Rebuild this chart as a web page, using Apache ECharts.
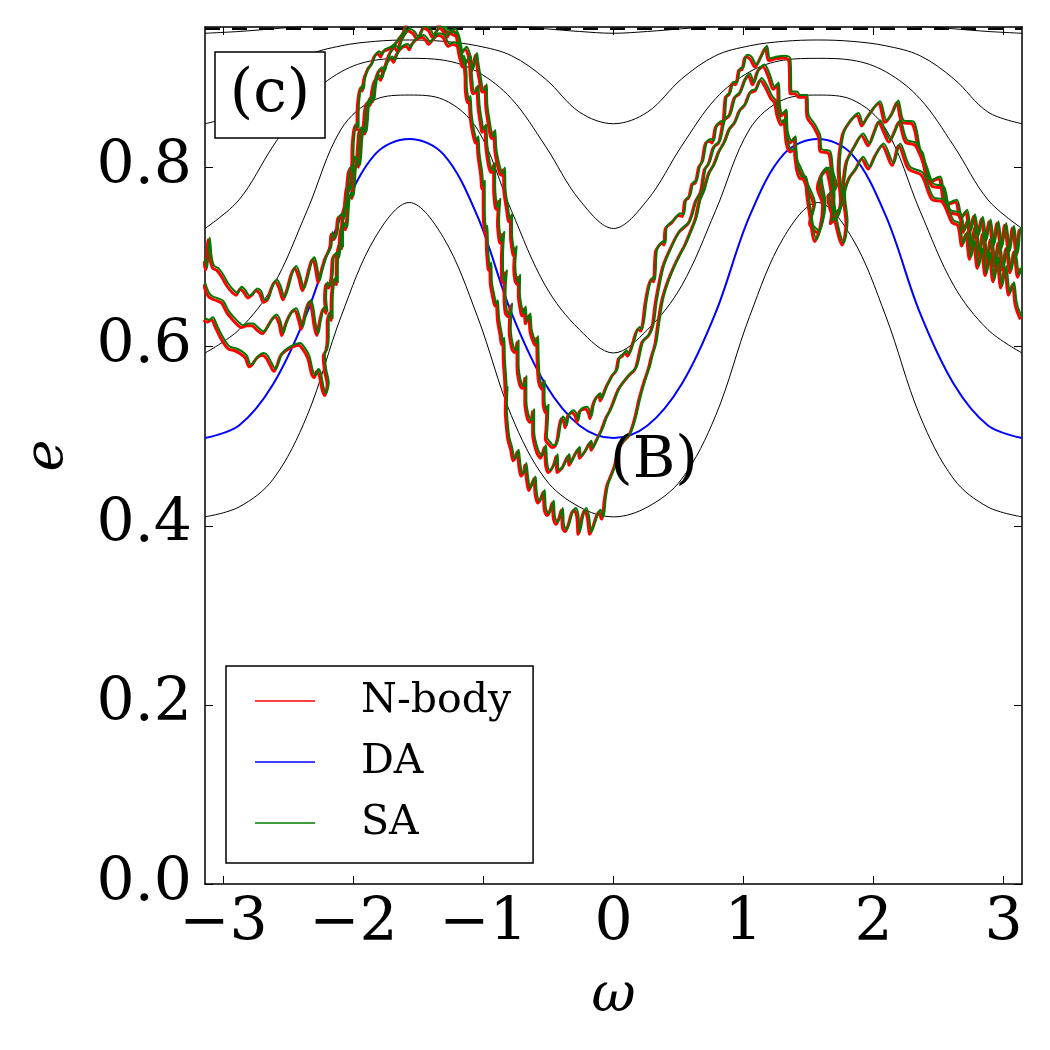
<!DOCTYPE html>
<html>
<head>
<meta charset="utf-8">
<title>e vs omega</title>
<script src="https://cdn.jsdelivr.net/npm/echarts@6.0.0/dist/echarts.min.js"></script>
<style>
    html, body { margin: 0; padding: 0; background: #fff; }
    #chart { width: 1050px; height: 1050px; }
</style>
</head>
<body>
<div id="chart"></div>
<script>
// omega grid of the contour curves (every 15 deg)
const omegaNodes = [
    -3.1416, -2.8798, -2.618, -2.3562, -2.0944, -1.8326, -1.5708, -1.309, -1.0472, -0.7854, -0.5236, -0.2618, 0,
    0.2618, 0.5236, 0.7854, 1.0472, 1.309, 1.5708, 1.8326, 2.0944, 2.3562, 2.618, 2.8798, 3.1416,
];

// black contours
const eInner = [0.410, 0.421, 0.452, 0.523, 0.634, 0.722, 0.761, 0.722, 0.634, 0.523, 0.452, 0.421, 0.410,
    0.421, 0.452, 0.523, 0.634, 0.722, 0.761, 0.722, 0.634, 0.523, 0.452, 0.421, 0.410];
const eMid = [0.593, 0.619, 0.668, 0.752, 0.843, 0.876, 0.881, 0.876, 0.843, 0.752, 0.668, 0.619, 0.593,
    0.619, 0.668, 0.752, 0.843, 0.876, 0.881, 0.876, 0.843, 0.752, 0.668, 0.619, 0.593];
const eOuter = [0.732, 0.764, 0.824, 0.877, 0.907, 0.920, 0.922, 0.920, 0.907, 0.877, 0.824, 0.764, 0.732,
    0.764, 0.824, 0.877, 0.907, 0.920, 0.922, 0.920, 0.907, 0.877, 0.824, 0.764, 0.732];
const eHigh = [0.849, 0.862, 0.899, 0.925, 0.936, 0.941, 0.9425, 0.941, 0.936, 0.925, 0.899, 0.862, 0.849,
    0.862, 0.899, 0.925, 0.936, 0.941, 0.9425, 0.941, 0.936, 0.925, 0.899, 0.862, 0.849];
const eTop = [0.950, 0.952, 0.955, 0.958, 0.960, 0.961, 0.961, 0.961, 0.960, 0.958, 0.955, 0.952, 0.950,
    0.952, 0.955, 0.958, 0.960, 0.961, 0.961, 0.961, 0.960, 0.958, 0.955, 0.952, 0.950];
// DA curve (blue)
const eDA = [0.498, 0.512, 0.558, 0.638, 0.746, 0.815, 0.832, 0.815, 0.746, 0.638, 0.558, 0.512, 0.498,
    0.512, 0.558, 0.638, 0.746, 0.815, 0.832, 0.815, 0.746, 0.638, 0.558, 0.512, 0.498];
const eLimit = 0.955;

const xTicks = [-3, -2, -1, 0, 1, 2, 3];
const yTicks = [0, 0.2, 0.4, 0.6, 0.8];

// trajectory P [omega, e]
const pTail = [[-3.1416, 0.698], [-3.125, 0.688], [-3.105, 0.722], [-3.09, 0.700], [-3.07, 0.690], [-3.04, 0.688],
    [-3.00, 0.680], [-2.96, 0.670], [-2.92, 0.663], [-2.89, 0.660], [-2.86, 0.667], [-2.83, 0.663], [-2.80, 0.657],
    [-2.77, 0.660], [-2.74, 0.665], [-2.71, 0.662], [-2.68, 0.652], [-2.65, 0.655], [-2.62, 0.668], [-2.59, 0.675],
    [-2.56, 0.668], [-2.53, 0.655], [-2.50, 0.666], [-2.47, 0.682], [-2.44, 0.690], [-2.41, 0.680], [-2.38, 0.665],
    [-2.35, 0.678], [-2.32, 0.695], [-2.30, 0.700], [-2.28, 0.690], [-2.26, 0.674], [-2.24, 0.685], [-2.21, 0.700],
    [-2.19, 0.706]];
const pRise = [[-2.17, 0.712], [-2.16, 0.728], [-2.14, 0.722], [-2.12, 0.730], [-2.11, 0.745], [-2.09, 0.748],
    [-2.07, 0.744], [-2.06, 0.755], [-2.05, 0.772], [-2.04, 0.780], [-2.02, 0.776], [-2.01, 0.786], [-2.00, 0.805],
    [-1.99, 0.812], [-1.97, 0.808], [-1.96, 0.818], [-1.95, 0.838], [-1.94, 0.845], [-1.92, 0.840], [-1.91, 0.852],
    [-1.90, 0.868], [-1.88, 0.875], [-1.86, 0.872], [-1.85, 0.885], [-1.83, 0.898], [-1.80, 0.903], [-1.78, 0.900],
    [-1.76, 0.910], [-1.73, 0.920], [-1.70, 0.924], [-1.68, 0.920], [-1.66, 0.928], [-1.62, 0.936], [-1.58, 0.938],
    [-1.56, 0.934]];
const pTop = [[-1.54, 0.940], [-1.50, 0.946], [-1.46, 0.948], [-1.43, 0.944], [-1.41, 0.940], [-1.38, 0.945],
    [-1.34, 0.950], [-1.30, 0.948], [-1.28, 0.942], [-1.26, 0.938], [-1.23, 0.940], [-1.19, 0.938], [-1.16, 0.930]];
const pDown = [[-1.13, 0.935], [-1.10, 0.925], [-1.08, 0.910], [-1.07, 0.915], [-1.05, 0.928], [-1.04, 0.918],
    [-1.02, 0.900], [-1.00, 0.887], [-0.988, 0.887], [-0.975, 0.893], [-0.97, 0.870], [-0.95, 0.850], [-0.935, 0.838],
    [-0.923, 0.835], [-0.91, 0.842], [-0.90, 0.820], [-0.88, 0.805], [-0.86, 0.795], [-0.846, 0.794], [-0.835, 0.800],
    [-0.83, 0.775], [-0.81, 0.755], [-0.795, 0.742], [-0.78, 0.748], [-0.78, 0.725], [-0.765, 0.708], [-0.756, 0.704],
    [-0.745, 0.712], [-0.755, 0.690], [-0.745, 0.676], [-0.73, 0.672], [-0.718, 0.680], [-0.72, 0.660], [-0.70, 0.640],
    [-0.69, 0.637], [-0.675, 0.645], [-0.665, 0.628], [-0.64, 0.637], [-0.628, 0.618], [-0.59, 0.604], [-0.58, 0.612],
    [-0.575, 0.585], [-0.564, 0.563], [-0.54, 0.555], [-0.53, 0.562], [-0.53, 0.540], [-0.512, 0.529], [-0.50, 0.535],
    [-0.505, 0.515], [-0.512, 0.499]];
const pBottom = [[-0.49, 0.494], [-0.46, 0.490], [-0.436, 0.492], [-0.42, 0.500], [-0.41, 0.510], [-0.39, 0.522],
    [-0.37, 0.518], [-0.36, 0.512], [-0.34, 0.525], [-0.308, 0.529], [-0.28, 0.524], [-0.27, 0.518], [-0.25, 0.530],
    [-0.205, 0.533], [-0.18, 0.528], [-0.17, 0.522], [-0.15, 0.536], [-0.128, 0.544], [-0.10, 0.548], [-0.09, 0.542],
    [-0.07, 0.548], [-0.05, 0.556], [-0.026, 0.563], [0.0, 0.570], [0.03, 0.575], [0.05, 0.589]];
const pClimb = [[0.08, 0.592], [0.10, 0.596], [0.12, 0.592], [0.154, 0.604], [0.2, 0.622], [0.22, 0.620],
    [0.256, 0.652], [0.282, 0.671], [0.31, 0.678], [0.32, 0.675], [0.334, 0.708], [0.36, 0.715], [0.385, 0.718],
    [0.40, 0.716], [0.41, 0.734], [0.46, 0.741], [0.513, 0.749], [0.54, 0.748], [0.56, 0.765], [0.59, 0.769],
    [0.615, 0.784], [0.64, 0.785], [0.667, 0.803], [0.69, 0.808], [0.718, 0.829], [0.75, 0.832], [0.77, 0.830],
    [0.795, 0.847], [0.83, 0.852], [0.85, 0.850], [0.872, 0.881], [0.90, 0.884], [0.923, 0.896], [0.95, 0.895],
    [0.975, 0.911], [1.00, 0.912], [1.026, 0.926], [1.06, 0.924], [1.1, 0.915], [1.14, 0.925], [1.18, 0.936],
    [1.205, 0.922], [1.26, 0.924], [1.32, 0.925], [1.36, 0.922], [1.372, 0.885], [1.41, 0.885], [1.436, 0.881],
    [1.49, 0.881], [1.50, 0.859], [1.55, 0.848], [1.59, 0.836], [1.6, 0.821], [1.667, 0.818], [1.69, 0.795]];
const pRight = [[1.72, 0.780], [1.66, 0.770], [1.70, 0.750], [1.76, 0.760], [1.74, 0.800], [1.77, 0.838],
    [1.82, 0.852], [1.885, 0.861], [1.92, 0.849], [1.96, 0.858], [2.05, 0.874], [2.10, 0.853], [2.15, 0.862],
    [2.19, 0.875], [2.23, 0.853], [2.31, 0.851], [2.36, 0.820], [2.38, 0.816], [2.44, 0.786], [2.51, 0.790],
    [2.565, 0.760], [2.64, 0.764], [2.68, 0.745], [2.72, 0.753], [2.75, 0.730], [2.78, 0.748], [2.81, 0.725],
    [2.84, 0.745], [2.87, 0.720], [2.90, 0.742], [2.93, 0.715], [2.96, 0.740], [2.99, 0.712], [3.02, 0.738],
    [3.05, 0.708], [3.08, 0.735], [3.11, 0.705], [3.13, 0.732], [3.1416, 0.733]];

// trajectory Q
const qTail = [[-3.1416, 0.672], [-3.11, 0.660], [-3.08, 0.656], [-3.04, 0.654], [-3.00, 0.651], [-2.96, 0.640],
    [-2.92, 0.633], [-2.88, 0.627], [-2.85, 0.624], [-2.81, 0.626], [-2.77, 0.626], [-2.73, 0.621], [-2.69, 0.617],
    [-2.66, 0.622], [-2.62, 0.632], [-2.59, 0.636], [-2.56, 0.628], [-2.54, 0.615], [-2.51, 0.628], [-2.47, 0.640],
    [-2.44, 0.643], [-2.41, 0.632], [-2.39, 0.622], [-2.36, 0.640], [-2.33, 0.652], [-2.31, 0.645], [-2.29, 0.625],
    [-2.27, 0.615], [-2.25, 0.630], [-2.22, 0.645], [-2.20, 0.640]];
const qRise = [[-2.21, 0.655], [-2.20, 0.672], [-2.18, 0.668], [-2.16, 0.680], [-2.15, 0.700], [-2.13, 0.705],
    [-2.11, 0.700], [-2.10, 0.712], [-2.09, 0.730], [-2.07, 0.738], [-2.05, 0.733], [-2.04, 0.745], [-2.03, 0.765],
    [-2.01, 0.772], [-2.00, 0.768], [-1.99, 0.780], [-1.98, 0.800], [-1.96, 0.808], [-1.95, 0.803], [-1.94, 0.815],
    [-1.93, 0.835], [-1.91, 0.845], [-1.90, 0.840], [-1.89, 0.852], [-1.88, 0.870], [-1.86, 0.880], [-1.84, 0.876],
    [-1.83, 0.888], [-1.81, 0.905], [-1.78, 0.912], [-1.76, 0.908], [-1.74, 0.918], [-1.71, 0.930], [-1.67, 0.936],
    [-1.65, 0.932], [-1.63, 0.942], [-1.60, 0.950]];
const qTop = [[-1.57, 0.955], [-1.53, 0.952], [-1.50, 0.946], [-1.48, 0.950], [-1.45, 0.958], [-1.41, 0.955],
    [-1.38, 0.948], [-1.36, 0.952], [-1.33, 0.958], [-1.30, 0.955], [-1.27, 0.948], [-1.25, 0.952], [-1.22, 0.955],
    [-1.19, 0.948]];
const qDown = [[-1.17, 0.935], [-1.15, 0.915], [-1.12, 0.920], [-1.10, 0.925], [-1.09, 0.905], [-1.07, 0.885],
    [-1.05, 0.887], [-1.04, 0.892], [-1.03, 0.870], [-1.01, 0.850], [-1.00, 0.842], [-0.98, 0.848], [-0.97, 0.825],
    [-0.95, 0.805], [-0.93, 0.797], [-0.91, 0.805], [-0.91, 0.780], [-0.90, 0.760], [-0.89, 0.756], [-0.87, 0.765],
    [-0.88, 0.740], [-0.87, 0.723], [-0.86, 0.718], [-0.84, 0.728], [-0.85, 0.700], [-0.85, 0.680], [-0.84, 0.674],
    [-0.82, 0.685], [-0.83, 0.660], [-0.82, 0.640], [-0.80, 0.636], [-0.78, 0.648], [-0.79, 0.620], [-0.77, 0.600],
    [-0.75, 0.596], [-0.73, 0.607], [-0.73, 0.580], [-0.71, 0.560], [-0.69, 0.556], [-0.67, 0.567], [-0.67, 0.540],
    [-0.65, 0.522], [-0.63, 0.518], [-0.61, 0.530]];
const qBottom = [[-0.61, 0.505], [-0.58, 0.485], [-0.55, 0.478], [-0.52, 0.490], [-0.51, 0.470], [-0.49, 0.462],
    [-0.45, 0.470], [-0.43, 0.480], [-0.42, 0.462], [-0.38, 0.468], [-0.34, 0.480], [-0.33, 0.470], [-0.30, 0.478],
    [-0.26, 0.488], [-0.25, 0.478], [-0.21, 0.485], [-0.17, 0.495], [-0.16, 0.487], [-0.12, 0.498], [-0.08, 0.510],
    [-0.05, 0.522], [-0.02, 0.530], [0.0, 0.537]];
const qClimb = [[0.05, 0.555], [0.128, 0.570], [0.18, 0.578], [0.23, 0.607], [0.282, 0.615], [0.31, 0.626],
    [0.334, 0.652], [0.385, 0.689], [0.436, 0.708], [0.513, 0.730], [0.59, 0.741], [0.64, 0.764], [0.68, 0.775],
    [0.71, 0.800], [0.74, 0.806], [0.78, 0.825], [0.82, 0.830], [0.86, 0.855], [0.90, 0.860], [0.94, 0.880],
    [0.98, 0.885], [1.02, 0.900], [1.05, 0.905], [1.08, 0.895], [1.12, 0.910], [1.16, 0.915], [1.20, 0.905],
    [1.24, 0.890], [1.27, 0.895], [1.28, 0.870], [1.30, 0.860], [1.33, 0.865], [1.34, 0.840], [1.37, 0.830],
    [1.40, 0.835], [1.41, 0.810], [1.44, 0.800]];
const qRight = [[1.50, 0.780], [1.55, 0.760], [1.52, 0.740], [1.58, 0.730], [1.63, 0.760], [1.60, 0.790],
    [1.66, 0.800], [1.70, 0.770], [1.68, 0.740], [1.74, 0.750], [1.78, 0.790], [1.80, 0.808], [1.86, 0.825],
    [1.92, 0.838], [1.97, 0.827], [2.01, 0.840], [2.05, 0.853], [2.09, 0.842], [2.13, 0.831], [2.17, 0.842],
    [2.205, 0.853], [2.257, 0.831], [2.334, 0.827], [2.41, 0.801], [2.46, 0.782], [2.54, 0.779], [2.59, 0.753],
    [2.67, 0.749], [2.70, 0.730], [2.73, 0.742], [2.76, 0.712], [2.79, 0.735], [2.82, 0.705], [2.85, 0.728],
    [2.88, 0.698], [2.91, 0.722], [2.94, 0.692], [2.97, 0.718], [3.00, 0.688], [3.03, 0.712], [3.06, 0.685],
    [3.09, 0.708], [3.12, 0.680], [3.1416, 0.690]];

// trajectory R
const rTail = [[-3.1416, 0.632], [-3.11, 0.630], [-3.08, 0.633], [-3.05, 0.624], [-3.02, 0.615], [-2.98, 0.605],
    [-2.95, 0.600], [-2.90, 0.598], [-2.86, 0.595], [-2.82, 0.590], [-2.79, 0.580], [-2.77, 0.582], [-2.73, 0.590],
    [-2.69, 0.593], [-2.66, 0.590], [-2.63, 0.582], [-2.60, 0.575], [-2.58, 0.580], [-2.55, 0.592], [-2.51, 0.598],
    [-2.46, 0.602], [-2.41, 0.604], [-2.38, 0.600], [-2.34, 0.590], [-2.31, 0.572], [-2.29, 0.568], [-2.27, 0.575],
    [-2.25, 0.570], [-2.23, 0.555], [-2.21, 0.548], [-2.19, 0.560]];
const rRise = [[-2.21, 0.575], [-2.22, 0.592], [-2.20, 0.598], [-2.19, 0.610], [-2.19, 0.630], [-2.17, 0.640],
    [-2.16, 0.632], [-2.16, 0.650], [-2.15, 0.670], [-2.13, 0.678], [-2.12, 0.672], [-2.12, 0.690], [-2.11, 0.710],
    [-2.09, 0.718], [-2.08, 0.712], [-2.08, 0.730], [-2.07, 0.752], [-2.05, 0.760], [-2.04, 0.754], [-2.04, 0.772],
    [-2.03, 0.795], [-2.01, 0.802], [-2.00, 0.796], [-2.00, 0.815], [-1.99, 0.840], [-1.97, 0.850], [-1.96, 0.845],
    [-1.96, 0.862], [-1.95, 0.882], [-1.93, 0.892], [-1.92, 0.888], [-1.91, 0.900], [-1.88, 0.912], [-1.85, 0.918],
    [-1.83, 0.926], [-1.80, 0.930], [-1.78, 0.926], [-1.76, 0.932], [-1.71, 0.935], [-1.67, 0.940], [-1.64, 0.946],
    [-1.61, 0.952], [-1.58, 0.962]];
const rTop = [[-1.52, 0.968], [-1.45, 0.970], [-1.38, 0.966], [-1.32, 0.960], [-1.28, 0.955], [-1.24, 0.952],
    [-1.21, 0.950]];
const rDown = [[-1.20, 0.950], [-1.18, 0.931], [-1.16, 0.920], [-1.15, 0.925], [-1.13, 0.905], [-1.128, 0.890],
    [-1.11, 0.875], [-1.10, 0.880], [-1.09, 0.858], [-1.07, 0.840], [-1.05, 0.830], [-1.04, 0.835], [-1.03, 0.815],
    [-1.01, 0.795], [-1.00, 0.779], [-0.99, 0.785], [-0.99, 0.760], [-0.988, 0.742], [-0.975, 0.728], [-0.97, 0.735],
    [-0.965, 0.712], [-0.962, 0.704], [-0.95, 0.688], [-0.94, 0.694], [-0.935, 0.672], [-0.92, 0.660], [-0.90, 0.648],
    [-0.89, 0.652], [-0.88, 0.632], [-0.86, 0.615], [-0.85, 0.605], [-0.84, 0.610], [-0.835, 0.585], [-0.825, 0.565],
    [-0.82, 0.550], [-0.815, 0.555], [-0.82, 0.530], [-0.81, 0.510], [-0.80, 0.498]];
const rBottom = [[-0.78, 0.488], [-0.76, 0.475], [-0.745, 0.478], [-0.73, 0.485], [-0.715, 0.468], [-0.70, 0.458],
    [-0.68, 0.462], [-0.67, 0.470], [-0.655, 0.452], [-0.64, 0.442], [-0.62, 0.448], [-0.60, 0.455], [-0.59, 0.437],
    [-0.57, 0.428], [-0.55, 0.432], [-0.53, 0.440], [-0.52, 0.420], [-0.50, 0.414], [-0.48, 0.418], [-0.46, 0.428],
    [-0.45, 0.410], [-0.43, 0.404], [-0.41, 0.410], [-0.39, 0.420], [-0.38, 0.400], [-0.36, 0.396], [-0.34, 0.402],
    [-0.31, 0.417], [-0.29, 0.420], [-0.27, 0.412], [-0.26, 0.393], [-0.25, 0.398], [-0.23, 0.413], [-0.21, 0.420],
    [-0.19, 0.412], [-0.17, 0.393], [-0.15, 0.400], [-0.12, 0.413], [-0.10, 0.418], [-0.08, 0.410], [-0.07, 0.415]];
const rClimb = [[-0.06, 0.430], [-0.04, 0.447], [-0.01, 0.458], [0.02, 0.470], [0.05, 0.488], [0.09, 0.497],
    [0.13, 0.503], [0.17, 0.520], [0.21, 0.545], [0.25, 0.565], [0.28, 0.578], [0.30, 0.590], [0.33, 0.605],
    [0.35, 0.625], [0.38, 0.652], [0.42, 0.672], [0.47, 0.690], [0.52, 0.705], [0.56, 0.716], [0.60, 0.730],
    [0.64, 0.745], [0.67, 0.765], [0.70, 0.775], [0.74, 0.795], [0.78, 0.805], [0.82, 0.820], [0.86, 0.830],
    [0.90, 0.845], [0.94, 0.852], [0.98, 0.866], [1.02, 0.872], [1.06, 0.886], [1.10, 0.888], [1.14, 0.900],
    [1.18, 0.892], [1.22, 0.880], [1.25, 0.875], [1.27, 0.860], [1.30, 0.850], [1.32, 0.855], [1.34, 0.830],
    [1.37, 0.820], [1.40, 0.822], [1.42, 0.800], [1.45, 0.790], [1.48, 0.790], [1.50, 0.770]];
const rRight = [[1.52, 0.750], [1.56, 0.720], [1.60, 0.735], [1.62, 0.760], [1.58, 0.780], [1.64, 0.800],
    [1.68, 0.780], [1.72, 0.740], [1.77, 0.716], [1.80, 0.740], [1.78, 0.770], [1.82, 0.790], [1.87, 0.800],
    [1.92, 0.812], [1.97, 0.801], [2.02, 0.815], [2.077, 0.827], [2.154, 0.805], [2.205, 0.827], [2.28, 0.801],
    [2.38, 0.794], [2.46, 0.767], [2.54, 0.764], [2.616, 0.741], [2.66, 0.738], [2.69, 0.715], [2.72, 0.728],
    [2.75, 0.700], [2.78, 0.718], [2.81, 0.690], [2.84, 0.710], [2.87, 0.682], [2.90, 0.705], [2.93, 0.675],
    [2.96, 0.700], [2.99, 0.668], [3.02, 0.690], [3.05, 0.660], [3.08, 0.672], [3.10, 0.650], [3.12, 0.640],
    [3.1416, 0.633]];

const trajP = [].concat(pTail, pRise, pTop, pDown, pBottom, pClimb, pRight);
const trajQ = [].concat(qTail, qRise, qTop, qDown, qBottom, qClimb, qRight);
const trajR = [].concat(rTail, rRise, rTop, rDown, rBottom, rClimb, rRight);
const trajectories = [trajP, trajQ, trajR];

const serif = "DejaVu Serif";
const PI = Math.PI;
const black = "#000";
const tickStyle = { inside: true, length: 8, lineStyle: { color: black, width: 1 } };
const spine = { show: true, onZero: false, lineStyle: { color: black, width: 1.5 } };

function contour(values, color, width, name) {
    return {
        name: name,
        type: "line",
        data: omegaNodes.map((w, i) => [w, values[i]]),
        smooth: 0.35,
        symbol: "none",
        color: color,
        lineStyle: { color: color, width: width },
        z: 2,
    };
}

function track(points, name, color, width, shifted, z) {
    return {
        name: name,
        type: "line",
        data: points,
        xAxisIndex: shifted ? 2 : 0,
        yAxisIndex: shifted ? 2 : 0,
        smooth: 0.3,
        symbol: "none",
        color: color,
        itemStyle: { color: color },
        lineStyle: { color: color, width: width, join: "round" },
        z: z,
    };
}

const series = [
    contour(eInner, black, 1),
    contour(eMid, black, 1),
    contour(eOuter, black, 1),
    contour(eHigh, black, 1),
    contour(eTop, black, 1),
    {
        type: "line",
        data: [[-PI, eLimit], [PI, eLimit]],
        symbol: "none",
        lineStyle: { color: black, width: 2.5, type: [15, 12] },
        z: 2,
    },
    contour(eDA, "#0000ff", 2, "DA"),
];
trajectories.forEach((t) => series.push(track(t, "N-body", "#ff0000", 3, true, 3)));
trajectories.forEach((t) => series.push(track(t, "SA", "#007a00", 2, false, 4)));

const chart = echarts.init(document.getElementById("chart"));
chart.setOption({
    animation: false,
    backgroundColor: "#fff",
    grid: { left: 205, right: 28, top: 27, bottom: 166 },
    xAxis: [
        {
            type: "value",
            min: -PI,
            max: PI,
            position: "bottom",
            name: "ω",
            nameLocation: "middle",
            nameGap: 86,
            nameTextStyle: { fontFamily: serif, fontStyle: "italic", fontSize: 54, color: black },
            axisLine: spine,
            axisTick: { ...tickStyle, customValues: xTicks },
            axisLabel: {
                customValues: xTicks,
                formatter: (v) => String(v).replace("-", "\u2212"),
                fontFamily: serif,
                fontSize: 60,
                color: black,
                margin: 10,
            },
            splitLine: { show: false },
        },
        {
            type: "value",
            min: -PI,
            max: PI,
            position: "top",
            axisLine: spine,
            axisTick: { ...tickStyle, customValues: xTicks },
            axisLabel: { show: false },
            splitLine: { show: false },
        },
        // red copy drawn a hair to the left
        { type: "value", min: -PI + 0.012, max: PI + 0.012, show: false },
    ],
    yAxis: [
        {
            type: "value",
            min: 0,
            max: 0.957,
            position: "left",
            name: "e",
            nameLocation: "middle",
            nameGap: 130,
            nameRotate: 90,
            nameTextStyle: { fontFamily: serif, fontStyle: "italic", fontSize: 54, color: black },
            axisLine: spine,
            axisTick: { ...tickStyle, customValues: yTicks },
            axisLabel: {
                customValues: yTicks,
                formatter: (v) => v.toFixed(1),
                fontFamily: serif,
                fontSize: 60,
                color: black,
                margin: 13,
            },
            splitLine: { show: false },
        },
        {
            type: "value",
            min: 0,
            max: 0.957,
            position: "right",
            axisLine: spine,
            axisTick: { ...tickStyle, customValues: yTicks },
            axisLabel: { show: false },
            splitLine: { show: false },
        },
        // red copy drawn a hair lower
        { type: "value", min: 0.0025, max: 0.9595, show: false },
    ],
    legend: {
        orient: "vertical",
        left: 226,
        top: 666,
        data: [
            { name: "N-body", icon: "rect" },
            { name: "DA", icon: "rect" },
            { name: "SA", icon: "rect" },
        ],
        itemWidth: 60,
        itemHeight: 1.5,
        itemGap: 11,
        padding: [10, 22, 15, 29],
        backgroundColor: "#fff",
        borderColor: black,
        borderWidth: 1.5,
        borderRadius: 0,
        selectedMode: false,
        textStyle: {
            fontFamily: serif,
            fontSize: 41,
            color: black,
            lineHeight: 50,
            padding: [0, 0, 0, 41],
        },
    },
    graphic: [
        {
            type: "rect",
            shape: { x: 215, y: 52, width: 110, height: 86 },
            style: { fill: "#fff", stroke: black, lineWidth: 1.5 },
            z: 100,
        },
        {
            type: "text",
            x: 270,
            y: 95,
            style: { text: "(c)", fontFamily: serif, fontSize: 60, fill: black, align: "center", verticalAlign: "middle" },
            z: 101,
        },
        {
            type: "text",
            x: 610,
            y: 462,
            style: { text: "(B)", fontFamily: serif, fontSize: 58, fill: black, align: "left", verticalAlign: "middle" },
            z: 101,
        },
    ],
    series: series,
});
</script>
</body>
</html>
